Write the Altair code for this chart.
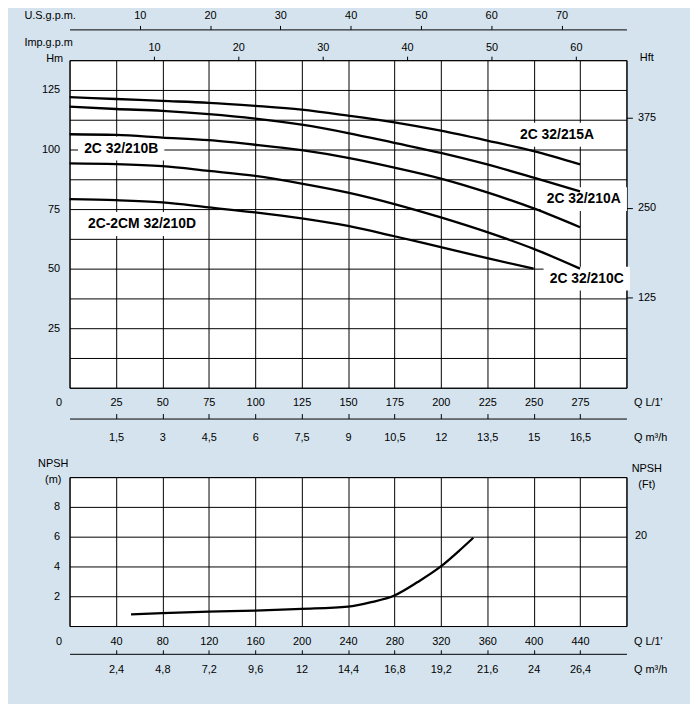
import altair as alt
import pandas as pd

# ---------------- data ----------------
Q_LMIN = [0, 25, 50, 75, 100, 125, 150, 175, 200, 225, 250, 275]
H_215A = [122, 121.2, 120.4, 119.6, 118.3, 116.7, 114.2, 111.4, 107.9, 103.75, 99.3, 93.75]
H_210A = [118, 117, 116.25, 114.9, 113, 110.4, 106.9, 102.8, 98.6, 93.75, 88.2, 82.4]
H_210B = [106.4, 106.1, 105, 103.9, 102, 99.7, 96.5, 92.4, 87.8, 82, 75.3, 67.4]
H_210C = [94.2, 93.9, 93, 91, 88.9, 85.7, 81.9, 77.1, 71.5, 65.3, 58.3, 50]
Q_210D = [0, 25, 50, 75, 100, 125, 150, 175, 200, 225, 250]
H_210D = [79.2, 78.75, 77.8, 75.7, 73.6, 71.1, 67.9, 63.6, 59, 54.4, 50]

LABELS = ["2C 32/215A", "2C 32/210A", "2C 32/210C", "2C 32/210B", "2C-2CM 32/210D"]
LABEL_Q = [262.6, 277, 278.6, 27.8, 39]
LABEL_H = [106.2, 79.2, 45.8, 100.4, 68.75]

NPSH_Q = [53, 80, 120, 160, 200, 240, 260, 280, 300, 320, 335, 348]
NPSH_M = [0.78, 0.87, 0.97, 1.04, 1.15, 1.3, 1.6, 2.05, 2.95, 4.0, 5.0, 5.93]

# axis ticks
TOP_Q_GRID = [0, 25, 50, 75, 100, 125, 150, 175, 200, 225, 250, 275, 300]
TOP_H_GRID = [0, 12.5, 25, 37.5, 50, 62.5, 75, 87.5, 100, 112.5, 125, 137.5]
HFT_TICKS = [125, 250, 375]
USGPM_TICKS = [10, 20, 30, 40, 50, 60, 70]
IMPGPM_TICKS = [10, 20, 30, 40, 50, 60]
M3H_TOP_TICKS = [1.5, 3, 4.5, 6, 7.5, 9, 10.5, 12, 13.5, 15, 16.5]
BOT_Q_GRID = [0, 40, 80, 120, 160, 200, 240, 280, 320, 360, 400, 440, 480]
BOT_N_GRID = [0, 2, 4, 6, 8, 10]
NPSH_FT_TICKS = [20]
M3H_BOT_TICKS = [2.4, 4.8, 7.2, 9.6, 12, 14.4, 16.8, 19.2, 21.6, 24, 26.4]

# unit conversions (the Hft scale of the source chart reads about 3.31 ft per m)
L_PER_USGAL = 3.78541
L_PER_IMPGAL = 4.54609
M3H_PER_LMIN = 0.06
FT_PER_M = 3.28084
FT_PER_M_AXIS = 3.31

# ---------------- tables ----------------
rows = []
for name, hs in [("2C 32/215A", H_215A), ("2C 32/210A", H_210A),
                 ("2C 32/210B", H_210B), ("2C 32/210C", H_210C)]:
    for q, h in zip(Q_LMIN, hs):
        rows.append({"model": name, "Q": q, "H": h})
for q, h in zip(Q_210D, H_210D):
    rows.append({"model": "2C-2CM 32/210D", "Q": q, "H": h})
curves = pd.DataFrame(rows)
curves["Hft"] = curves["H"] * FT_PER_M_AXIS
curves["usgpm"] = curves["Q"] / L_PER_USGAL
curves["impgpm"] = curves["Q"] / L_PER_IMPGAL
curves["m3h"] = curves["Q"] * M3H_PER_LMIN


def box_path(label):
    w = 7.3 * len(label) + 14
    h = 24
    a, b = w / 100, h / 100
    return f"M{-a},{-b}L{a},{-b}L{a},{b}L{-a},{b}Z"


labels = pd.DataFrame({"label": LABELS, "Q": LABEL_Q, "H": LABEL_H})
labels["shape"] = [box_path(s) for s in LABELS]

npsh = pd.DataFrame({"Q": NPSH_Q, "N": NPSH_M})
npsh["Nft"] = npsh["N"] * FT_PER_M
npsh["m3h"] = npsh["Q"] * M3H_PER_LMIN

# ---------------- styling ----------------
LABEL_FONT = "Liberation Sans Narrow, Liberation Sans"
TITLE_FONT = "Liberation Sans"
BG = "#d4e3ed"

W = 561
H_TOP = 330
H_BOT = 150

xs_top = alt.Scale(domain=[0, 300], nice=False, zero=False)
ys_top = alt.Scale(domain=[0, 137.5], nice=False, zero=False)
zero_off = {"condition": {"test": "datum.value == 0", "value": -11}, "value": 0}

# ---------------- top panel ----------------
boxes = alt.Chart(labels).mark_point(filled=True, fill="white", opacity=1,
                                     strokeWidth=0, size=10000).encode(
    x=alt.X("Q:Q", scale=xs_top, axis=None),
    y=alt.Y("H:Q", scale=ys_top, axis=None),
    shape=alt.Shape("shape:N", scale=None, legend=None),
)

lines_top = alt.Chart(curves).mark_line(color="black", strokeWidth=2.3,
                                        interpolate="monotone").encode(
    x=alt.X("Q:Q", scale=xs_top, axis=alt.Axis(
        orient="bottom", values=TOP_Q_GRID, grid=True, ticks=False, tickSize=0,
        domain=False, labelPadding=15, labelBaseline="middle",
        labelExpr="datum.value >= 300 ? '' : datum.label",
        labelOffset=zero_off,
        title="Q L/1'", titleX=568, titleY=15, titleAngle=0,
        titleAlign="left", titleBaseline="middle")),
    y=alt.Y("H:Q", scale=ys_top, axis=alt.Axis(
        orient="left", values=TOP_H_GRID, grid=True, ticks=False, tickSize=0,
        domain=False, labelPadding=10, labelBaseline="middle",
        labelExpr="(datum.value % 25 == 0 && datum.value > 0) ? format(datum.value, 'd') : ''",
        title="Hm", titleX=-24, titleY=-2, titleAngle=0,
        titleAlign="left", titleBaseline="middle")),
    detail="model:N",
)

texts = alt.Chart(labels).mark_text(font=TITLE_FONT, fontWeight="bold", fontSize=14,
                                    align="center", baseline="middle",
                                    color="black").encode(
    x=alt.X("Q:Q", scale=xs_top, axis=None),
    y=alt.Y("H:Q", scale=ys_top, axis=None),
    text="label:N",
)

hft = alt.Chart(curves).mark_line(opacity=0).encode(
    x=alt.X("Q:Q", scale=xs_top, axis=None),
    y=alt.Y("Hft:Q", scale=alt.Scale(domain=[0, 137.5 * FT_PER_M_AXIS], nice=False, zero=False),
            axis=alt.Axis(orient="right", values=HFT_TICKS, grid=False, tickSize=6,
                          domain=False, labelPadding=5, labelBaseline="middle",
                          title="Hft", titleX=13, titleY=-3, titleAngle=0,
                          titleAlign="left", titleBaseline="middle")),
    detail="model:N",
)

usgpm = alt.Chart(curves).mark_line(opacity=0).encode(
    x=alt.X("usgpm:Q", scale=alt.Scale(domain=[0, 300 / L_PER_USGAL], nice=False, zero=False),
            axis=alt.Axis(orient="top", offset=31, values=USGPM_TICKS, grid=False,
                          tickSize=4, domain=True, labelPadding=10, labelBaseline="middle",
                          title="U.S.g.p.m.", titleX=-46, titleY=-14, titleAngle=0,
                          titleAlign="left", titleBaseline="middle")),
    y=alt.Y("H:Q", scale=ys_top, axis=None),
    detail="model:N",
)

impgpm = alt.Chart(curves).mark_line(opacity=0).encode(
    x=alt.X("impgpm:Q", scale=alt.Scale(domain=[0, 300 / L_PER_IMPGAL], nice=False, zero=False),
            axis=alt.Axis(orient="top", offset=0, values=IMPGPM_TICKS, grid=False,
                          tickSize=4, domain=False, labelPadding=9, labelBaseline="middle",
                          title="Imp.g.p.m", titleX=-46, titleY=-18, titleAngle=0,
                          titleAlign="left", titleBaseline="middle")),
    y=alt.Y("H:Q", scale=ys_top, axis=None),
    detail="model:N",
)

m3h_top = alt.Chart(curves).mark_line(opacity=0).encode(
    x=alt.X("m3h:Q", scale=alt.Scale(domain=[0, 300 * M3H_PER_LMIN], nice=False, zero=False),
            axis=alt.Axis(orient="top", offset=-(H_TOP + 31), values=M3H_TOP_TICKS,
                          grid=False, tickSize=5, domain=True, labelPadding=-24,
                          labelBaseline="middle",
                          labelExpr="replace(format(datum.value, '.1~f'), '.', ',')",
                          title="Q m³/h", titleX=568, titleY=19, titleAngle=0,
                          titleAlign="left", titleBaseline="middle")),
    y=alt.Y("H:Q", scale=ys_top, axis=None),
    detail="model:N",
)

top = alt.layer(boxes, lines_top, texts, hft, usgpm, impgpm, m3h_top).resolve_scale(
    x="independent", y="independent").properties(width=W, height=H_TOP)

# ---------------- bottom panel ----------------
xs_bot = alt.Scale(domain=[0, 480], nice=False, zero=False)
ys_bot = alt.Scale(domain=[0, 10], nice=False, zero=False)

npsh_line = alt.Chart(npsh).mark_line(color="black", strokeWidth=2.3,
                                      interpolate="monotone").encode(
    x=alt.X("Q:Q", scale=xs_bot, axis=alt.Axis(
        orient="bottom", values=BOT_Q_GRID, grid=True, ticks=False, tickSize=0,
        domain=False, labelPadding=16, labelBaseline="middle",
        labelExpr="datum.value >= 480 ? '' : datum.label",
        labelOffset=zero_off,
        title="Q L/1'", titleX=568, titleY=16, titleAngle=0,
        titleAlign="left", titleBaseline="middle")),
    y=alt.Y("N:Q", scale=ys_bot, axis=alt.Axis(
        orient="left", values=BOT_N_GRID, grid=True, ticks=False, tickSize=0,
        domain=False, labelPadding=10, labelBaseline="middle",
        labelExpr="(datum.value > 0 && datum.value < 10) ? format(datum.value, 'd') : ''",
        title=["NPSH", "(m)"], titleX=-17, titleY=-14, titleAngle=0, titleLineHeight=16,
        titleAlign="center", titleBaseline="middle")),
)

npsh_ft = alt.Chart(npsh).mark_line(opacity=0).encode(
    x=alt.X("Q:Q", scale=xs_bot, axis=None),
    y=alt.Y("Nft:Q", scale=alt.Scale(domain=[0, 10 * FT_PER_M], nice=False, zero=False),
            axis=alt.Axis(orient="right", values=NPSH_FT_TICKS, grid=False, ticks=False,
                          tickSize=0, domain=False, labelPadding=8, labelBaseline="middle",
                          title=["NPSH", "(Ft)"], titleX=20, titleY=-9, titleAngle=0,
                          titleLineHeight=16, titleAlign="center", titleBaseline="middle")),
)

m3h_bot = alt.Chart(npsh).mark_line(opacity=0).encode(
    x=alt.X("m3h:Q", scale=alt.Scale(domain=[0, 480 * M3H_PER_LMIN], nice=False, zero=False),
            axis=alt.Axis(orient="top", offset=-(H_BOT + 28), values=M3H_BOT_TICKS,
                          grid=False, tickSize=4, domain=True, labelPadding=-20,
                          labelBaseline="middle",
                          labelExpr="replace(format(datum.value, '.1~f'), '.', ',')",
                          title="Q m³/h", titleX=568, titleY=16, titleAngle=0,
                          titleAlign="left", titleBaseline="middle")),
    y=alt.Y("N:Q", scale=ys_bot, axis=None),
)

bottom = alt.layer(npsh_line, npsh_ft, m3h_bot).resolve_scale(
    x="independent", y="independent").properties(width=W, height=H_BOT)

chart = alt.vconcat(top, bottom, spacing=90, bounds="flush").properties(
    background=BG,
    padding={"left": 15, "top": -2, "right": 22, "bottom": 26},
).configure_view(
    fill="white", stroke="black", strokeWidth=1
).configure_axis(
    labelFont=LABEL_FONT, labelFontSize=11, labelColor="black",
    titleFont=TITLE_FONT, titleFontSize=11, titleFontWeight="normal", titleColor="black",
    domainColor="black", tickColor="black", gridColor="black", gridOpacity=1,
    gridWidth=1, labelFlush=False, labelOverlap=False,
)

chart.save("out.html", embed_options={"renderer": "svg", "actions": False})
